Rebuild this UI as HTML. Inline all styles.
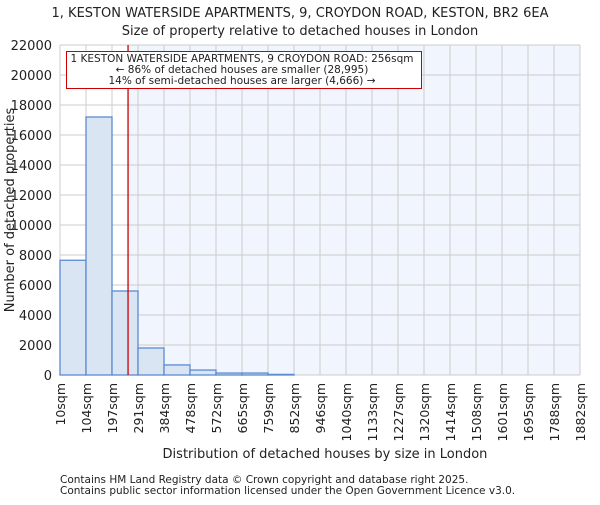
<!DOCTYPE html>
<html><head><meta charset="utf-8"><style>
body{margin:0;background:#fff}
svg text{font-family:"DejaVu Sans","Liberation Sans",sans-serif;fill:#222}
</style></head><body>
<svg width="600" height="500">
<g id="g"></g>
</svg>
<script>
const binLabels=["10sqm","104sqm","197sqm","291sqm","384sqm","478sqm","572sqm","665sqm","759sqm","852sqm","946sqm","1040sqm","1133sqm","1227sqm","1320sqm","1414sqm","1508sqm","1601sqm","1695sqm","1788sqm","1882sqm"];
const counts=[7650,17200,5600,1800,670,330,130,130,40,0,0,0,0,0,0,0,0,0,0,0];
const yTicks=[0,2000,4000,6000,8000,10000,12000,14000,16000,18000,20000,22000];
const propertySize=256;
const L=60,R=580,T=45,B=375,yMax=22000;
const ns="http://www.w3.org/2000/svg";
const g=document.getElementById('g');
const bw=(R-L)/counts.length;
const y=v=>B-(v/yMax)*(B-T);
const xs=s=>{const a=parseFloat(binLabels[0]),b=parseFloat(binLabels[1]);return L+(s-a)/(b-a)*bw;};
function el(t,a,txt){const e=document.createElementNS(ns,t);for(const k in a)e.setAttribute(k,a[k]);if(txt!==undefined)e.textContent=txt;g.appendChild(e);return e;}
const px=xs(propertySize);
let e;
e=el('rect',{x:L,y:T,width:R-L,height:B-T,fill:'#fff'});


e=el('rect',{x:px,y:T,width:R-px,height:B-T,fill:'#f1f5fd'});


for(let i=0;i<=counts.length;i++){e=el('line',{x1:L+i*bw,x2:L+i*bw,y1:T,y2:B,stroke:'#ccc','stroke-width':1});

}
yTicks.forEach(v=>{e=el('line',{x1:L,x2:R,y1:y(v),y2:y(v),stroke:'#ccc'});


e=el('text',{x:L-8,y:y(v)+5,'text-anchor':'end','font-size':13},v);

});
counts.forEach((c,i)=>{if(c<=0)return;e=el('rect',{x:L+i*bw,y:y(c),width:bw,height:B-y(c),fill:'#dae5f4',stroke:'#5b8bd0','stroke-width':1.3});

});
binLabels.forEach((l,i)=>{const x=L+i*bw;e=el('text',{x:x+5,y:B+8,'text-anchor':'end','font-size':12.5,transform:`rotate(-90 ${x+5} ${B+8})`},l);

});
e=el('line',{x1:px,x2:px,y1:T,y2:B,stroke:'#c00','stroke-width':1.3});


e=el('rect',{x:66.5,y:51.5,width:355,height:37,fill:'#fff',stroke:'#c00','stroke-width':1});


[["1 KESTON WATERSIDE APARTMENTS, 9 CROYDON ROAD: 256sqm",62],["← 86% of detached houses are smaller (28,995)",73],["14% of semi-detached houses are larger (4,666) →",84]].forEach(([t,yy])=>{e=el('text',{x:242,y:yy,'text-anchor':'middle','font-size':10.5,textLength:t.length>50?343:undefined},t);
if(t.length<=50)e.removeAttribute('textLength');

});
e=el('text',{x:300,y:17,'text-anchor':'middle','font-size':13},"1, KESTON WATERSIDE APARTMENTS, 9, CROYDON ROAD, KESTON, BR2 6EA");


e=el('text',{x:300,y:35,'text-anchor':'middle','font-size':13},"Size of property relative to detached houses in London");


e=el('text',{x:325,y:458,'text-anchor':'middle','font-size':13},"Distribution of detached houses by size in London");


e=el('text',{x:14,y:210,'text-anchor':'middle','font-size':13,transform:'rotate(-90 14 210)'},"Number of detached properties");


e=el('text',{x:60,y:483,'font-size':10.5,fill:'#444'},"Contains HM Land Registry data © Crown copyright and database right 2025.");


e=el('text',{x:60,y:494,'font-size':10.5},"Contains public sector information licensed under the Open Government Licence v3.0.");


</script>
</body></html>
